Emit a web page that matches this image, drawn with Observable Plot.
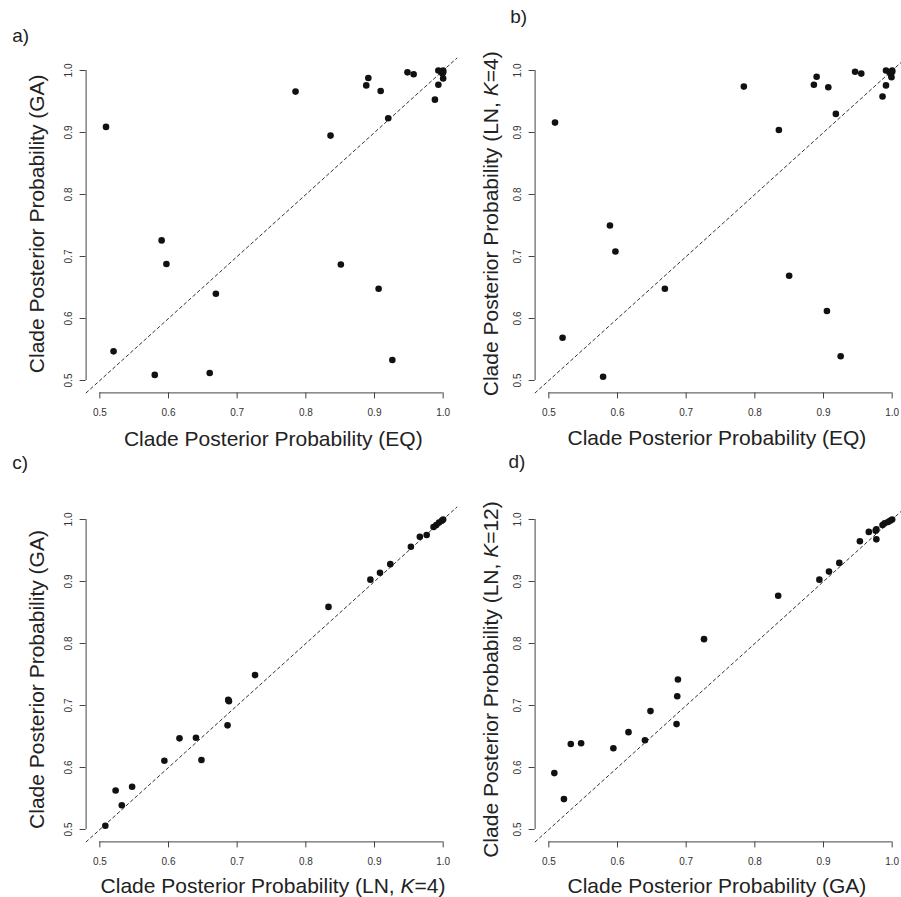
<!DOCTYPE html>
<html><head><meta charset="utf-8">
<script src="https://cdn.jsdelivr.net/npm/d3@7"></script>
<script src="https://cdn.jsdelivr.net/npm/@observablehq/plot@0.6"></script>
<style>
body{margin:0;background:#fff;}
#fig{position:relative;width:901px;height:897px;overflow:hidden;background:#fff;}
#fig svg{position:absolute;}
</style></head><body><div id="fig"></div>
<script>
const tickValues = [0.5, 0.6, 0.7, 0.8, 0.9, 1.0];
const domain = [0.48, 1.02];

// a) EQ vs GA
const aEQ = [0.509,0.520,0.580,0.590,0.597,0.660,0.669,0.785,0.836,0.851,0.888,0.891,0.909,0.906,0.920,0.926,0.948,0.957,0.988,0.993,0.993,1.000,0.997,1.000,0.999,1.000];
const aGA = [0.909,0.547,0.509,0.726,0.688,0.512,0.640,0.966,0.895,0.687,0.976,0.988,0.967,0.648,0.923,0.533,0.997,0.994,0.953,0.977,1.000,0.987,0.998,1.000,0.995,0.997];
// b) EQ vs LN K=4
const bEQ = [0.509,0.520,0.579,0.589,0.597,0.669,0.784,0.835,0.850,0.886,0.890,0.907,0.905,0.918,0.925,0.946,0.955,0.986,0.991,0.991,0.999,0.996,1.000,0.998,1.000];
const bLN4 = [0.916,0.569,0.506,0.750,0.708,0.648,0.974,0.904,0.669,0.977,0.990,0.973,0.612,0.930,0.539,0.998,0.995,0.958,0.976,1.000,0.989,0.997,1.000,0.994,0.998];
// c) LN K=4 vs GA
const cLN4 = [0.508,0.523,0.532,0.547,0.594,0.616,0.640,0.648,0.686,0.687,0.688,0.726,0.833,0.894,0.908,0.923,0.953,0.966,0.976,0.986,0.990,0.994,0.998,1.000];
const cGA = [0.506,0.563,0.539,0.569,0.611,0.647,0.648,0.612,0.668,0.709,0.707,0.749,0.859,0.903,0.914,0.928,0.956,0.972,0.975,0.988,0.991,0.995,0.998,1.000];
// d) GA vs LN K=12
const dGA = [0.508,0.522,0.532,0.547,0.594,0.616,0.640,0.648,0.686,0.687,0.688,0.726,0.834,0.894,0.908,0.923,0.953,0.966,0.977,0.976,0.977,0.986,0.989,0.994,0.997,1.000];
const dLN12 = [0.591,0.549,0.638,0.639,0.631,0.657,0.644,0.691,0.670,0.715,0.742,0.807,0.877,0.903,0.916,0.930,0.965,0.980,0.968,0.982,0.984,0.991,0.994,0.996,0.998,1.000];

const panelTags = ["a)", "b)", "c)", "d)"];
const xTitles = ["Clade Posterior Probability (EQ)", "Clade Posterior Probability (EQ)", "Clade Posterior Probability (LN, K=4)", "Clade Posterior Probability (GA)"];
const yTitles = ["Clade Posterior Probability (GA)", "Clade Posterior Probability (LN, K=4)", "Clade Posterior Probability (GA)", "Clade Posterior Probability (LN, K=12)"];

const panels = [
  {tag: panelTags[0], xs: aEQ, ys: aGA, xt: xTitles[0], yt: yTitles[0], left: 0, top: 0, tagOff: [-73.9, -16.6], xOff: [1.8, 46.6], yOff: [-48.4, -1.7]},
  {tag: panelTags[1], xs: bEQ, ys: bLN4, xt: xTitles[1], yt: yTitles[1], left: 449, top: 0, tagOff: [-24.9, -35.6], xOff: [-3.6, 45], yOff: [-43.6, -1.7]},
  {tag: panelTags[2], xs: cLN4, ys: cGA, xt: xTitles[2], yt: yTitles[2], left: 0, top: 449, tagOff: [-73.9, -38.3], xOff: [1.5, 44.5], yOff: [-48.4, 5]},
  {tag: panelTags[3], xs: dGA, ys: dLN12, xt: xTitles[3], yt: yTitles[3], left: 449, top: 449, tagOff: [-26.6, -39.3], xOff: [-3.6, 44], yOff: [-43.6, 5]}
];

const FONT = "'Liberation Sans', Arial, Helvetica, sans-serif";
const fmt = d3.format(".1f");
const fig = document.getElementById("fig");

function italicK(svg) {
  svg.querySelectorAll("text").forEach(t => {
    const s = t.textContent;
    const i = s.indexOf("K=");
    if (i >= 0 && t.children.length === 0) {
      t.textContent = "";
      t.append(document.createTextNode(s.slice(0, i)));
      const ts = document.createElementNS("http://www.w3.org/2000/svg", "tspan");
      ts.setAttribute("font-style", "italic");
      ts.textContent = "K";
      t.append(ts, document.createTextNode(s.slice(i + 1)));
    }
  });
}

for (const p of panels) {
  const data = p.xs.map((x, i) => ({x, y: p.ys[i]}));
  const tMin = d3.min(tickValues), tMax = d3.max(tickValues);
  const chart = Plot.plot({
    width: 460, height: 449,
    marginLeft: 85.6, marginRight: 3.6, marginTop: 57.6, marginBottom: 56.6,
    style: {background: "transparent", fontFamily: FONT, overflow: "visible"},
    x: {domain},
    y: {domain},
    marks: [
      Plot.ruleX([domain[0]], {y1: tMin, y2: tMax, stroke: "#444", strokeWidth: 1}),
      Plot.ruleY([domain[0]], {x1: tMin, x2: tMax, stroke: "#444", strokeWidth: 1}),
      Plot.axisX({ticks: tickValues, tickSize: 6, tickPadding: 9.5, tickFormat: fmt, fontSize: 10, stroke: "#444", fill: "#333", label: null}),
      Plot.axisY({ticks: tickValues, tickSize: 6, tickPadding: 8, tickRotate: -90, tickFormat: fmt, fontSize: 10, stroke: "#444", fill: "#333", label: null}),
      Plot.line(domain.map(v => ({x: v, y: v})), {x: "x", y: "y", stroke: "#333", strokeWidth: 1, strokeDasharray: "3,3"}),
      Plot.dot(data, {x: "x", y: "y", r: 3.3, fill: "#111", stroke: "none"}),
      Plot.text([p.tag], {frameAnchor: "top-left", textAnchor: "start", lineAnchor: "bottom", dx: p.tagOff[0], dy: p.tagOff[1], fontSize: 19, fill: "#222"}),
      Plot.text([p.xt], {frameAnchor: "bottom", textAnchor: "middle", lineAnchor: "middle", dx: p.xOff[0], dy: p.xOff[1], fontSize: 21, fill: "#222"}),
      Plot.text([p.yt], {frameAnchor: "left", textAnchor: "middle", lineAnchor: "middle", rotate: -90, dx: p.yOff[0], dy: p.yOff[1], fontSize: 21, fill: "#222"})
    ]
  });
  chart.style.left = p.left + "px";
  chart.style.top = p.top + "px";
  chart.style.maxWidth = "none";
  italicK(chart);
  fig.appendChild(chart);
}
</script>
</body></html>
